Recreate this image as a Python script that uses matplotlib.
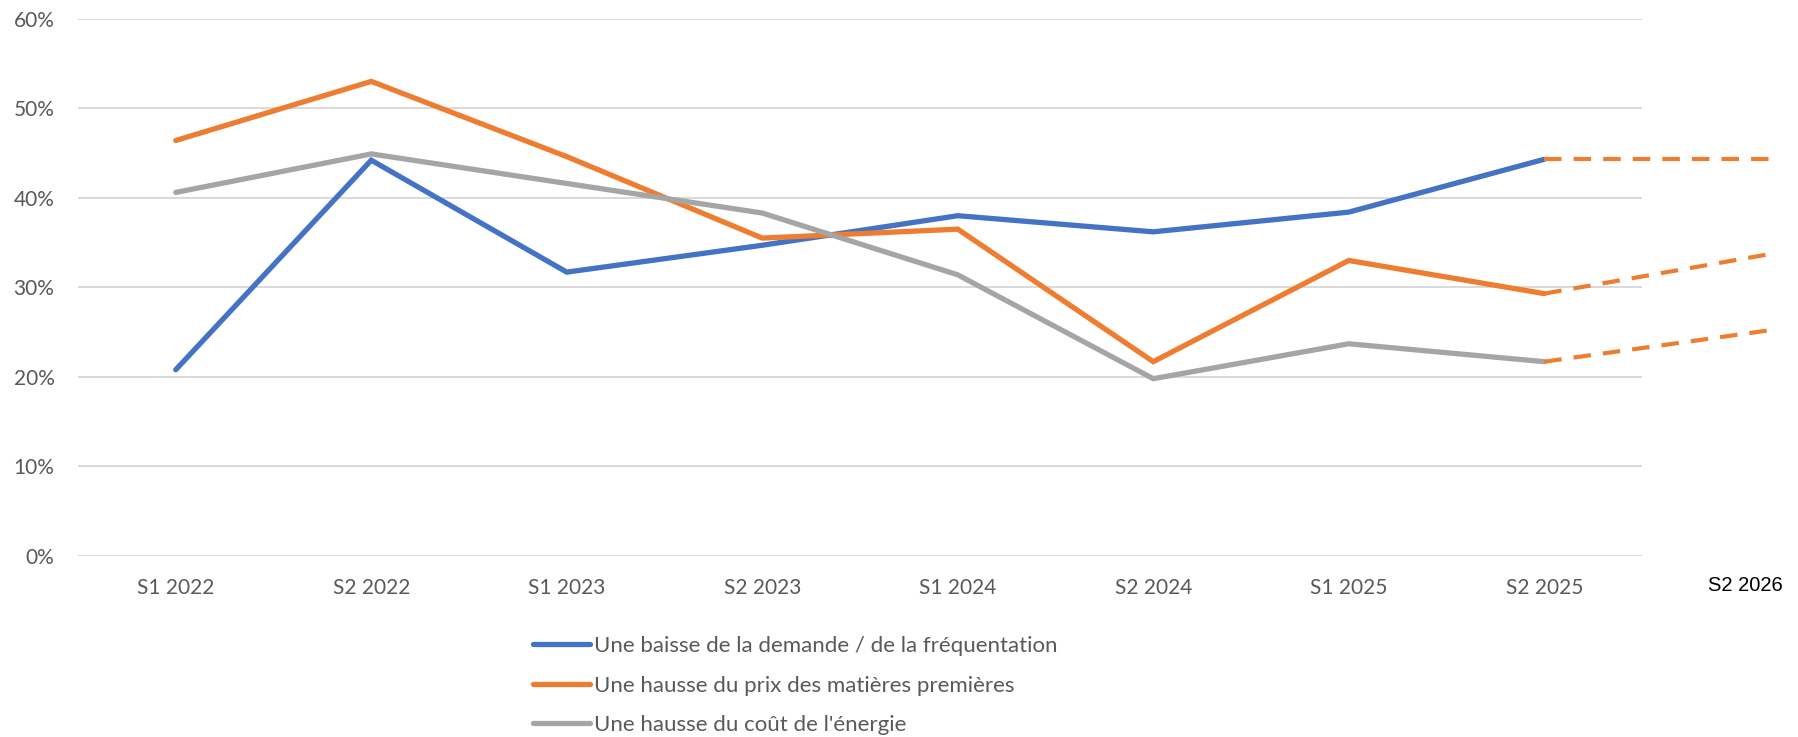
import matplotlib.pyplot as plt
from matplotlib.ticker import PercentFormatter

# categories and series (percent of respondents)
periods = ["S1 2022", "S2 2022", "S1 2023", "S2 2023", "S1 2024", "S2 2024", "S1 2025", "S2 2025"]
demande = [20.8, 44.2, 31.7, 34.7, 38.0, 36.2, 38.4, 44.3]
matieres = [46.4, 53.0, 44.6, 35.5, 36.5, 21.7, 33.0, 29.3]
energie = [40.6, 44.9, 41.6, 38.3, 31.4, 19.8, 23.7, 21.7]

# projections to S2 2026 (dashed)
forecast_label = "S2 2026"
forecast_start = [44.3, 29.3, 21.7]
forecast_end = [44.3, 33.7, 25.2]

labels = [
    "Une baisse de la demande / de la fréquentation",
    "Une hausse du prix des matières premières",
    "Une hausse du coût de l'énergie",
]
colors = ["#4472C4", "#ED7D31", "#A5A5A5"]

plt.rcParams['font.family'] = ['Lato', 'DejaVu Sans']

fig = plt.figure(figsize=(17.98, 7.37), dpi=100)
ax = fig.add_axes([78 / 1798, 1 - 556 / 737, (1642 - 78) / 1798, (556 - 18.7) / 737])

x = list(range(len(periods)))
lines = []
for vals, col, lab in zip([demande, matieres, energie], colors, labels):
    ln, = ax.plot(x, vals, color=col, lw=3.8, label=lab, solid_capstyle='round',
                  solid_joinstyle='miter', zorder=3)
    lines.append(ln)

# dashed projections, drawn past the last category
x_last = len(periods) - 1
x_fc = 8.15
for y0, y1 in zip(forecast_start, forecast_end):
    ax.plot([x_last, x_fc], [y0, y1], color="#ED7D31", lw=3.0,
            linestyle=(0, (4.2, 2.9)), clip_on=False, zorder=3)

ax.set_xlim(-0.5, len(periods) - 0.5)
ax.set_ylim(0, 60)
ax.set_yticks(range(0, 61, 10))
ax.yaxis.set_major_formatter(PercentFormatter(decimals=0))
ax.set_xticks(x)
ax.set_xticklabels(periods)

ax.grid(axis='y', color='#d9d9d9', lw=1.4)
ax.set_axisbelow(True)
for s in ax.spines.values():
    s.set_visible(False)
ax.tick_params(axis='both', length=0, labelsize=15, labelcolor='#595959')
ax.tick_params(axis='y', pad=17)
ax.tick_params(axis='x', pad=16)

ax.text(8.03, -3.25, forecast_label, ha='center', va='center', fontsize=14.5,
        family=['Liberation Sans', 'DejaVu Sans'], color='black', transform=ax.transData,
        clip_on=False)

leg = fig.legend(handles=lines, loc='upper left', bbox_to_anchor=(533 / 1798, 1 - 636 / 737),
                 frameon=False, fontsize=16, handlelength=2.55, handletextpad=0.2,
                 labelspacing=0.88, borderpad=0, borderaxespad=0)
for t in leg.get_texts():
    t.set_color('#595959')

fig.savefig("out.png", dpi=100)
